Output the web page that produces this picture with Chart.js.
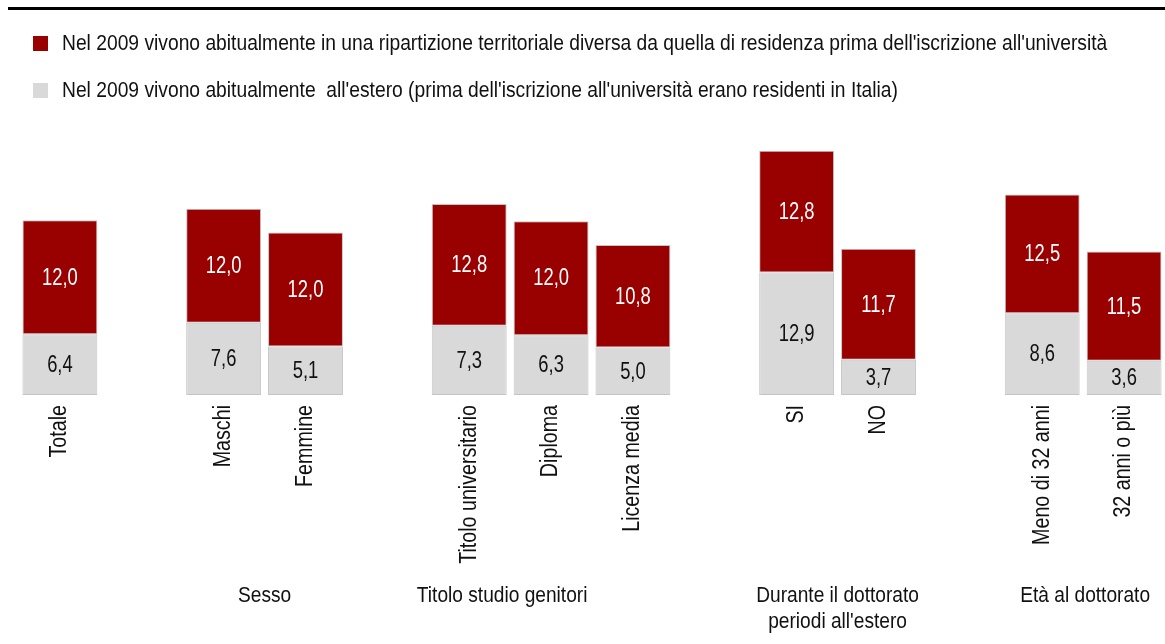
<!DOCTYPE html>
<html lang="it">
<head>
<meta charset="utf-8">
<script src="https://cdn.jsdelivr.net/npm/chart.js@4"></script>
<style>
  html, body { margin:0; padding:0; background:#fff; }
  body { width:1165px; height:644px; position:relative; overflow:hidden;
         font-family:'Liberation Sans',Arial,sans-serif; }
  #topline { position:absolute; left:8px; right:0; top:7px; height:3px; background:#000; }
  .sq { position:absolute; left:33px; width:15px; height:15px; }
  .leg { position:absolute; left:62px; font-size:22px; line-height:24px; color:#111; white-space:pre;
         transform:scaleX(0.875); transform-origin:0 0; }
  #wrap { position:absolute; left:0; top:0; width:1165px; height:644px; }
</style>
</head>
<body>
<div id="topline"></div>
<div id="wrap"><canvas id="grafico"></canvas></div>
<div id="legenda"></div>

<script>
// ---- dati ----
var categorie = ['Totale', '', 'Maschi', 'Femmine', '', 'Titolo universitario', 'Diploma', 'Licenza media', '', 'SI', 'NO', '', 'Meno di 32 anni', '32 anni o più'];
var estero =       [6.4, null, 7.6, 5.1, null, 7.3, 6.3, 5.0, null, 12.9, 3.7, null, 8.6, 3.6];
var ripartizione = [12.0, null, 12.0, 12.0, null, 12.8, 12.0, 10.8, null, 12.8, 11.7, null, 12.5, 11.5];
var serieNomi = [
  "Nel 2009 vivono abitualmente in una ripartizione territoriale diversa da quella di residenza prima dell'iscrizione all'università",
  "Nel 2009 vivono abitualmente  all'estero (prima dell'iscrizione all'università erano residenti in Italia)"
];
var gruppi = ['Sesso', 'Titolo studio genitori', ['Durante il dottorato', "periodi all'estero"], 'Età al dottorato'];
// categorie sotto cui si centra l'etichetta del gruppo
var gruppiAncore = [
  ['Maschi', 'Femmine'],
  ['Titolo universitario', 'Diploma'],
  ['SI', 'NO'],
  ['Meno di 32 anni', '32 anni o più']
];
var gruppiSpost = [0, -8, 0, 2];

var FONT = "'Liberation Sans',Arial,sans-serif";
var ROSSO = '#990000', GRIGIO = '#d9d9d9';

// ---- legenda (html) ----
var leg = document.getElementById('legenda');
[[ROSSO, serieNomi[0], 36, 31], [GRIGIO, serieNomi[1], 83, 78]].forEach(function(r) {
  var q = document.createElement('div');
  q.className = 'sq';
  q.style.background = r[0];
  q.style.top = r[2] + 'px';
  leg.appendChild(q);
  var d = document.createElement('div');
  d.className = 'leg';
  d.style.top = r[3] + 'px';
  d.textContent = r[1];
  leg.appendChild(d);
});

function fmt(v) { return v.toFixed(1).replace('.', ','); }

// testo "stretto" (il font originale è condensato)
function testoStretto(ctx, t, x, y, sx, ruota) {
  ctx.save();
  ctx.translate(x, y);
  if (ruota) ctx.rotate(-Math.PI / 2);
  ctx.scale(sx, 1);
  ctx.fillText(t, 0, 0);
  ctx.restore();
}

// etichette dentro le barre
var etichetteValori = {
  id: 'etichetteValori',
  afterDatasetsDraw: function(chart) {
    var ctx = chart.ctx;
    chart.data.datasets.forEach(function(ds, i) {
      var meta = chart.getDatasetMeta(i);
      meta.data.forEach(function(bar, j) {
        var v = ds.data[j];
        if (v == null) return;
        ctx.save();
        ctx.fillStyle = ds.coloreTesto;
        ctx.font = '23px ' + FONT;
        ctx.textAlign = 'center';
        ctx.textBaseline = 'middle';
        testoStretto(ctx, fmt(v), bar.x, (bar.y + bar.base) / 2 + 1, 0.8, false);
        ctx.restore();
      });
    });
  }
};

// etichette categorie (ruotate) e gruppi sotto l'asse
var etichetteAsse = {
  id: 'etichetteAsse',
  afterDraw: function(chart) {
    var ctx = chart.ctx, x = chart.scales.x, fondo = chart.chartArea.bottom;
    ctx.save();
    ctx.fillStyle = '#111';
    ctx.font = '23px ' + FONT;
    ctx.textAlign = 'right';
    ctx.textBaseline = 'middle';
    categorie.forEach(function(c, i) {
      if (!c) return;
      testoStretto(ctx, c, x.getPixelForValue(i), fondo + 10, 0.855, true);
    });

    ctx.font = '22px ' + FONT;
    ctx.textAlign = 'center';
    gruppi.forEach(function(g, i) {
      var xs = gruppiAncore[i].map(function(c) { return x.getPixelForValue(categorie.indexOf(c)); });
      var cx = xs.reduce(function(s, v) { return s + v; }, 0) / xs.length + gruppiSpost[i];
      var righe = Array.isArray(g) ? g : [g];
      righe.forEach(function(t, k) { testoStretto(ctx, t, cx, fondo + 201 + k * 26, 0.87, false); });
    });
    ctx.restore();
  }
};

new Chart(document.getElementById('grafico'), {
  type: 'bar',
  data: {
    labels: categorie,
    datasets: [{
      label: serieNomi[1],
      data: estero,
      backgroundColor: GRIGIO,
      borderColor: '#c4c4c4',
      borderWidth: 1,
      borderSkipped: false,
      coloreTesto: '#111'
    }, {
      label: serieNomi[0],
      data: ripartizione,
      backgroundColor: ROSSO,
      borderColor: '#c4c4c4',
      borderWidth: 1,
      borderSkipped: false,
      coloreTesto: '#fff'
    }]
  },
  options: {
    responsive: true,
    maintainAspectRatio: false,
    animation: false,
    layout: { padding: { left: 19, right: 0, top: 148, bottom: 249 } },
    datasets: { bar: { barPercentage: 0.915, categoryPercentage: 1 } },
    plugins: { legend: { display: false }, tooltip: { enabled: false } },
    scales: {
      x: { stacked: true, display: false },
      y: { stacked: true, display: false, min: 0, max: 26 }
    }
  },
  plugins: [etichetteValori, etichetteAsse]
});
</script>
</body>
</html>
